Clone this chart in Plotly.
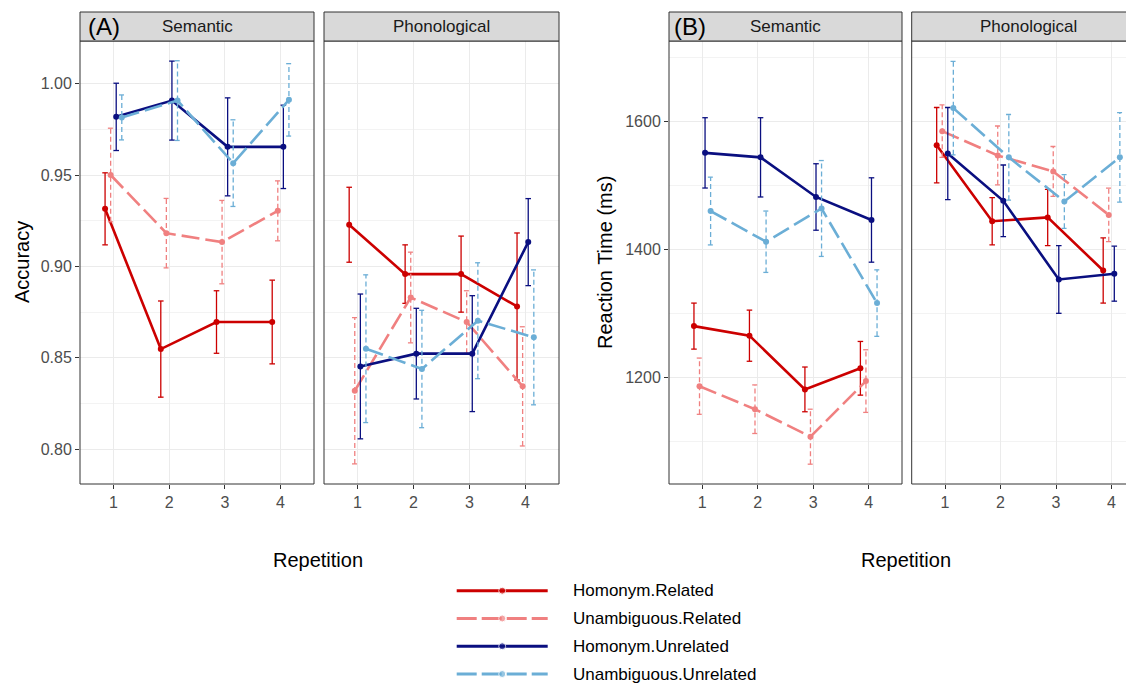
import plotly.graph_objects as go

# the page body adds an 8px margin: the figure fills the rest of the window
OFF = 8
W, H = 1134 - OFF, 683 - OFF

# ---------------- data ----------------
reps = [1, 2, 3, 4]
series = ["Homonym.Related", "Unambiguous.Related", "Homonym.Unrelated", "Unambiguous.Unrelated"]
facets = ["Semantic", "Phonological"]

# Panel A: accuracy (rows follow `series`)
acc_sem_mean = [[0.9315, 0.8548, 0.8696, 0.8696],
                [0.9500, 0.9182, 0.9133, 0.9304],
                [0.9818, 0.9907, 0.9654, 0.9654],
                [0.9815, 0.9907, 0.9565, 0.9911]]
acc_sem_err = [[0.0197, 0.0263, 0.0171, 0.0229],
               [0.0256, 0.0190, 0.0228, 0.0164],
               [0.0184, 0.0216, 0.0268, 0.0228],
               [0.0123, 0.0218, 0.0237, 0.0198]]
acc_phon_mean = [[0.9228, 0.8958, 0.8958, 0.8781],
                 [0.8320, 0.8830, 0.8696, 0.8344],
                 [0.8453, 0.8523, 0.8523, 0.9133],
                 [0.8550, 0.8439, 0.8703, 0.8612]]
acc_phon_err = [[0.0205, 0.0160, 0.0208, 0.0402],
                [0.0400, 0.0248, 0.0171, 0.0326],
                [0.0396, 0.0248, 0.0317, 0.0238],
                [0.0404, 0.0321, 0.0317, 0.0369]]

# Panel B: reaction time (ms)
rt_sem_mean = [[1280, 1265, 1181, 1214],
               [1186, 1150, 1107, 1194],
               [1551, 1544, 1482, 1446],
               [1460, 1412, 1464, 1316]]
rt_sem_err = [[36, 40, 35, 42],
              [44, 38, 43, 49],
              [55, 62, 52, 66],
              [53, 48, 75, 52]]
rt_phon_mean = [[1563, 1444, 1450, 1367],
                [1585, 1547, 1522, 1454],
                [1550, 1476, 1353, 1362],
                [1621, 1544, 1475, 1544]]
rt_phon_err = [[59, 37, 44, 51],
               [41, 46, 39, 42],
               [72, 56, 53, 43],
               [73, 67, 42, 70]]

acc_ticks = [0.80, 0.85, 0.90, 0.95, 1.00]
rt_ticks = [1200, 1400, 1600]

# ---------------- styles ----------------
colors = ["#CC0000", "#F08080", "#0A0F80", "#6BAED6"]
dashed = [False, True, False, True]
dodge = [-0.15, -0.05, 0.05, 0.15]
cap = 0.05
FONT = "Liberation Sans, Arial, sans-serif"


def px(x):
    # window pixel -> paper fraction
    return (x - OFF) / W


def py(y):
    return 1 - (y - OFF) / H


# panel geometry (window pixels)
ytop, ybot = 41, 484
strip_top = 12
panel_px = [(80, 314), (324, 559), (669, 902), (911.7, 1144.8)]
xranges = [[0.4, 4.6], [0.4, 4.6], [0.4, 4.6], [0.4, 4.405]]
xdomains = [[px(a), min(px(b), 1.0)] for a, b in panel_px]
ydomain = [py(ybot), py(ytop)]
yranges = [[0.781, 1.0233], [0.781, 1.0233], [1033, 1726], [1033, 1726]]

panels = [(acc_sem_mean, acc_sem_err), (acc_phon_mean, acc_phon_err),
          (rt_sem_mean, rt_sem_err), (rt_phon_mean, rt_phon_err)]

fig = go.Figure()

for k, (means, errs) in enumerate(panels):
    xa = "x" if k == 0 else f"x{k+1}"
    ya = "y" if k == 0 else f"y{k+1}"
    for i, name in enumerate(series):
        xs = [r + dodge[i] for r in reps]
        ex, ey = [], []
        for x, m, e in zip(xs, means[i], errs[i]):
            lo, hi = m - e, m + e
            ex += [x, x, None, x - cap, x + cap, None, x - cap, x + cap, None]
            ey += [lo, hi, None, lo, lo, None, hi, hi, None]
        fig.add_trace(go.Scatter(
            x=ex, y=ey, mode="lines", xaxis=xa, yaxis=ya, showlegend=False,
            line=dict(color=colors[i], width=1.3, dash="5px,3px" if dashed[i] else "solid"),
            hoverinfo="skip"))
        fig.add_trace(go.Scatter(
            x=xs, y=means[i], mode="lines+markers", xaxis=xa, yaxis=ya, name=name,
            showlegend=False,
            line=dict(color=colors[i], width=2.6, dash="18px,6px" if dashed[i] else "solid"),
            marker=dict(color=colors[i], size=6)))

# legend samples on a hidden axis
for i, name in enumerate(series):
    fig.add_trace(go.Scatter(
        x=[0, 0.5, 1], y=[i, i, i], mode="lines+markers", xaxis="x5", yaxis="y5",
        showlegend=False, hoverinfo="skip",
        line=dict(color=colors[i], width=3, dash="20px,5px" if dashed[i] else "solid"),
        marker=dict(color=colors[i], size=[0, 7, 0])))

layout = dict(
    width=W, height=H, margin=dict(l=0, r=0, t=0, b=0),
    plot_bgcolor="white", paper_bgcolor="white",
    font=dict(family=FONT, color="#000000"),
    showlegend=False,
)

for k in range(4):
    xn = "xaxis" if k == 0 else f"xaxis{k+1}"
    yn = "yaxis" if k == 0 else f"yaxis{k+1}"
    yid = "y" if k == 0 else f"y{k+1}"
    xid = "x" if k == 0 else f"x{k+1}"
    layout[xn] = dict(
        domain=xdomains[k], range=xranges[k], anchor=yid,
        tickmode="array", tickvals=reps, ticktext=[str(r) for r in reps],
        ticks="outside", ticklen=4, tickwidth=1, tickcolor="#333333",
        tickfont=dict(size=16, color="#4D4D4D", family=FONT),
        showgrid=True, gridcolor="#EBEBEB", gridwidth=1.1,
        zeroline=False, showline=False, fixedrange=True)
    is_acc = k < 2
    tv = acc_ticks if is_acc else rt_ticks
    first = k in (0, 2)
    layout[yn] = dict(
        domain=ydomain, range=yranges[k], anchor=xid,
        tickmode="array", tickvals=tv,
        ticktext=([f"{v:.2f}" for v in tv] if is_acc else [str(v) for v in tv]) if first else None,
        showticklabels=first,
        ticks="outside" if first else "", ticklen=4, tickwidth=1, tickcolor="#333333",
        tickfont=dict(size=16, color="#4D4D4D", family=FONT),
        showgrid=True, gridcolor="#EBEBEB", gridwidth=1.1,
        minor=dict(showgrid=True, gridcolor="#F3F3F3", gridwidth=0.8,
                   dtick=0.025 if is_acc else 100, tick0=0.8 if is_acc else 1000),
        zeroline=False, showline=False, fixedrange=True)

# legend axis
lx0, lx1 = 456.7, 547.7
unit = lx1 - lx0
layout["xaxis5"] = dict(domain=[px(lx0 - 0.05 * unit), px(lx1 + 0.05 * unit)], range=[-0.05, 1.05],
                        anchor="y5", visible=False, fixedrange=True)
row0, rowgap = 590.7, 27.77
layout["yaxis5"] = dict(domain=[max(py(row0 + 3.3 * rowgap), 0.0), py(row0 - 0.3 * rowgap)],
                        range=[3.3, -0.3], anchor="x5", visible=False, fixedrange=True)

shapes = []
annotations = []
for k, (a, b) in enumerate(panel_px):
    # panel border
    shapes.append(dict(type="rect", xref="paper", yref="paper",
                       x0=px(a), x1=px(b), y0=py(ybot), y1=py(ytop),
                       line=dict(color="#333333", width=1), fillcolor="rgba(0,0,0,0)", layer="above"))
    # strip
    shapes.append(dict(type="rect", xref="paper", yref="paper",
                       x0=px(a), x1=px(b), y0=py(ytop), y1=py(strip_top),
                       line=dict(color="#333333", width=1), fillcolor="#D9D9D9", layer="above"))
    annotations.append(dict(text=facets[k % 2], xref="paper", yref="paper",
                            x=px((a + min(b, 1134)) / 2 if k < 3 else (a + b) / 2), y=py(27),
                            xanchor="center", yanchor="middle",
                            showarrow=False, font=dict(size=17, color="#1A1A1A", family=FONT)))

annotations += [
    dict(text="(A)", xref="paper", yref="paper", x=px(104), y=py(27), xanchor="center", yanchor="middle",
         showarrow=False, font=dict(size=24, color="#000000", family=FONT)),
    dict(text="(B)", xref="paper", yref="paper", x=px(690), y=py(27), xanchor="center", yanchor="middle",
         showarrow=False, font=dict(size=24, color="#000000", family=FONT)),
    dict(text="Accuracy", xref="paper", yref="paper", x=px(22), y=py(262), textangle=-90,
         xanchor="center", yanchor="middle", showarrow=False, font=dict(size=20, family=FONT)),
    dict(text="Reaction Time (ms)", xref="paper", yref="paper", x=px(605), y=py(263), textangle=-90,
         xanchor="center", yanchor="middle", showarrow=False, font=dict(size=20, family=FONT)),
    dict(text="Repetition", xref="paper", yref="paper", x=px(318), y=py(560),
         xanchor="center", yanchor="middle", showarrow=False, font=dict(size=20, family=FONT)),
    dict(text="Repetition", xref="paper", yref="paper", x=px(906), y=py(560),
         xanchor="center", yanchor="middle", showarrow=False, font=dict(size=20, family=FONT)),
]
for i, name in enumerate(series):
    annotations.append(dict(text=name, xref="paper", yref="paper", x=px(571), y=py(row0 + i * rowgap),
                            xanchor="left", yanchor="middle", showarrow=False,
                            font=dict(size=17, color="#000000", family=FONT)))

layout["shapes"] = shapes
layout["annotations"] = annotations
fig.update_layout(**layout)
fig.write_html("out.html")
